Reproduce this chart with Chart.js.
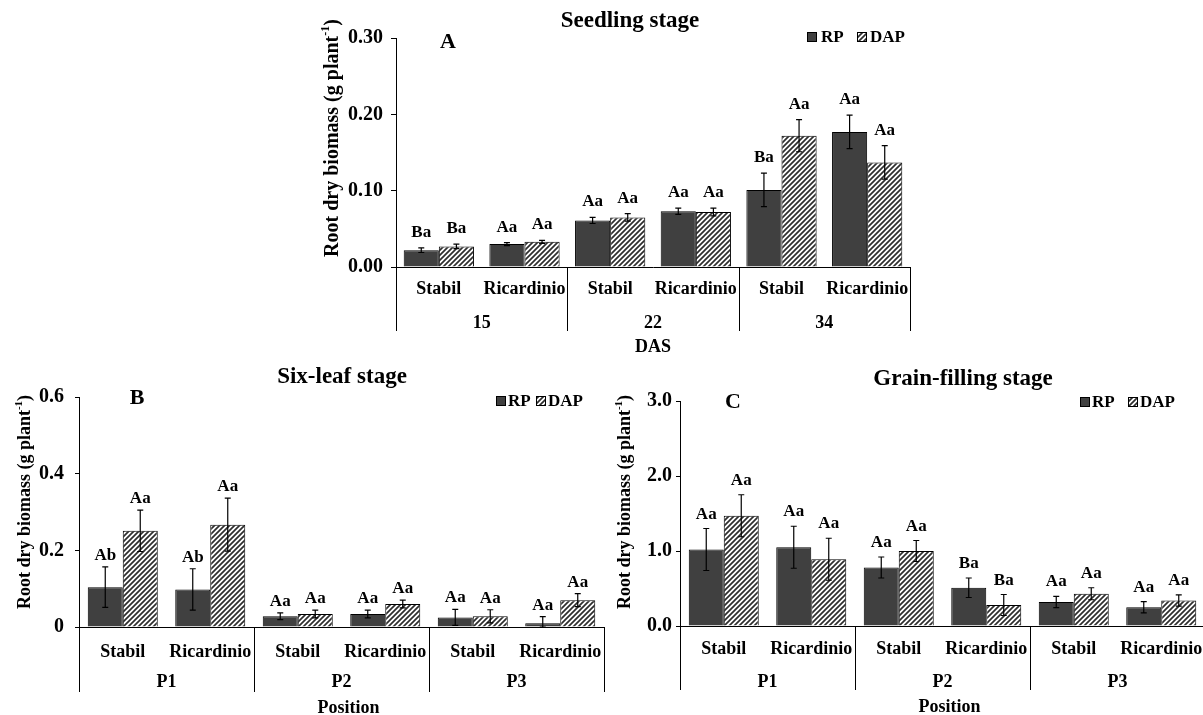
<!DOCTYPE html>
<html lang="en">
<head>
<meta charset="utf-8">
<title>Root dry biomass</title>
<script src="https://cdn.jsdelivr.net/npm/chart.js@4/dist/chart.umd.min.js"></script>
<style>
  html, body { margin: 0; padding: 0; background: #fff; overflow: hidden; }
  body { width: 1203px; height: 715px; position: relative; }
  canvas { position: absolute; }
</style>
</head>
<body>
<canvas id="chartA"></canvas>
<canvas id="chartB"></canvas>
<canvas id="chartC"></canvas>
<script>
// ---- data ----
const cultivars = ['Stabil', 'Ricardinio', 'Stabil', 'Ricardinio', 'Stabil', 'Ricardinio'];
const dasGroups = ['15', '22', '34'];
const positionGroups = ['P1', 'P2', 'P3'];
const seriesNames = ['RP', 'DAP'];

// A - seedling stage
const seedRP = [0.022, 0.030, 0.061, 0.073, 0.101, 0.177];
const seedRPErr = [0.003, 0.002, 0.004, 0.004, 0.022, 0.022];
const seedDAP = [0.027, 0.033, 0.065, 0.072, 0.172, 0.137];
const seedDAPErr = [0.003, 0.002, 0.005, 0.005, 0.021, 0.022];
const seedRPLetters = ['Ba', 'Aa', 'Aa', 'Aa', 'Ba', 'Aa'];
const seedDAPLetters = ['Ba', 'Aa', 'Aa', 'Aa', 'Aa', 'Aa'];
const seedTicks = ['0.00', '0.10', '0.20', '0.30'];

// B - six-leaf stage
const sixRP = [0.104, 0.098, 0.028, 0.034, 0.025, 0.010];
const sixRPErr = [0.053, 0.054, 0.009, 0.010, 0.021, 0.017];
const sixDAP = [0.251, 0.267, 0.034, 0.060, 0.028, 0.070];
const sixDAPErr = [0.054, 0.069, 0.010, 0.010, 0.017, 0.017];
const sixRPLetters = ['Ab', 'Ab', 'Aa', 'Aa', 'Aa', 'Aa'];
const sixDAPLetters = ['Aa', 'Aa', 'Aa', 'Aa', 'Aa', 'Aa'];
const sixTicks = ['0', '0.2', '0.4', '0.6'];

// C - grain-filling stage
const grainRP = [1.02, 1.05, 0.78, 0.51, 0.32, 0.25];
const grainRPErr = [0.28, 0.28, 0.14, 0.13, 0.075, 0.076];
const grainDAP = [1.47, 0.89, 1.00, 0.28, 0.43, 0.34];
const grainDAPErr = [0.28, 0.28, 0.14, 0.14, 0.08, 0.076];
const grainRPLetters = ['Aa', 'Aa', 'Aa', 'Ba', 'Aa', 'Aa'];
const grainDAPLetters = ['Aa', 'Aa', 'Aa', 'Ba', 'Aa', 'Aa'];
const grainTicks = ['0.0', '1.0', '2.0', '3.0'];

// ---- layout / style ----
const FONT = '"Liberation Serif", "Times New Roman", serif';
const RP_COLOR = '#404040';

const panels = [
  {
    id: 'chartA', canvas: {x: 300, y: 0, w: 650, h: 360},
    area: {l: 396, t: 38, r: 910, b: 267},
    rp: seedRP, rpErr: seedRPErr, dap: seedDAP, dapErr: seedDAPErr,
    rpLetters: seedRPLetters, dapLetters: seedDAPLetters,
    groups: dasGroups, ticks: seedTicks, max: 0.3, step: 0.1,
    title: 'Seedling stage', titlePos: [630, 21],
    letter: 'A', letterPos: [448, 42],
    legend: {y: 37, sq1: 807, t1: 821, sq2: 857, t2: 870},
    axisTitle: 'DAS', axisTitleDx: 0,
    yTitlePos: [333, 138], yTitleSize: 20,
    tickLen: 5, tickPad: 8, catPct: 0.82, letterGap: 11,
    sepLen: 64, subDy: 22, groupDy: 56, axisDy: 80
  },
  {
    id: 'chartB', canvas: {x: 0, y: 355, w: 620, h: 360},
    area: {l: 79, t: 397, r: 604, b: 627},
    rp: sixRP, rpErr: sixRPErr, dap: sixDAP, dapErr: sixDAPErr,
    rpLetters: sixRPLetters, dapLetters: sixDAPLetters,
    groups: positionGroups, ticks: sixTicks, max: 0.6, step: 0.2,
    title: 'Six-leaf stage', titlePos: [342, 377],
    letter: 'B', letterPos: [137, 398],
    legend: {y: 401, sq1: 496, t1: 508, sq2: 536, t2: 548},
    axisTitle: 'Position', axisTitleDx: 7,
    yTitlePos: [25, 502], yTitleSize: 18,
    tickLen: 4, tickPad: 11, catPct: 0.8, letterGap: 7,
    sepLen: 65, subDy: 25, groupDy: 55, axisDy: 81
  },
  {
    id: 'chartC', canvas: {x: 610, y: 355, w: 600, h: 360},
    area: {l: 680, t: 401, r: 1205, b: 626},
    rp: grainRP, rpErr: grainRPErr, dap: grainDAP, dapErr: grainDAPErr,
    rpLetters: grainRPLetters, dapLetters: grainDAPLetters,
    groups: positionGroups, ticks: grainTicks, max: 3.0, step: 1.0,
    title: 'Grain-filling stage', titlePos: [963, 379],
    letter: 'C', letterPos: [733, 402],
    legend: {y: 402, sq1: 1080, t1: 1092, sq2: 1128, t2: 1140},
    axisTitle: 'Position', axisTitleDx: 7,
    yTitlePos: [625, 502], yTitleSize: 18,
    tickLen: 4, tickPad: 4, catPct: 0.8, letterGap: 10,
    sepLen: 64, subDy: 23, groupDy: 56, axisDy: 81
  }
];

function makeHatch(ctx) {
  const c = document.createElement('canvas');
  c.width = 5; c.height = 5;
  const g = c.getContext('2d');
  g.fillStyle = '#fff';
  g.fillRect(0, 0, 5, 5);
  g.strokeStyle = '#2e2e2e';
  g.lineWidth = 1.7;
  g.beginPath();
  g.moveTo(-1, 6); g.lineTo(6, -1);
  g.moveTo(-1, 1); g.lineTo(1, -1);
  g.moveTo(4, 6); g.lineTo(6, 4);
  g.stroke();
  return ctx.createPattern(c, 'repeat');
}

function bold(size) { return 'bold ' + size + 'px ' + FONT; }

function annotate(p, hatch) {
  const X = v => v - p.canvas.x;
  const Y = v => v - p.canvas.y;
  return {
    id: 'annotate_' + p.id,
    afterDatasetsDraw(chart) {
      const ctx = chart.ctx;
      const ys = chart.scales.y;
      ctx.save();
      chart.data.datasets.forEach((ds, di) => {
        const meta = chart.getDatasetMeta(di);
        meta.data.forEach((bar, i) => {
          const v = ds.data[i], e = ds.err[i];
          const yTop = ys.getPixelForValue(v + e);
          const yBot = ys.getPixelForValue(Math.max(0, v - e));
          ctx.strokeStyle = '#000';
          ctx.lineWidth = 1.2;
          ctx.beginPath();
          ctx.moveTo(bar.x, yTop); ctx.lineTo(bar.x, yBot);
          ctx.moveTo(bar.x - 3, yTop); ctx.lineTo(bar.x + 3, yTop);
          ctx.moveTo(bar.x - 3, yBot); ctx.lineTo(bar.x + 3, yBot);
          ctx.stroke();
          ctx.fillStyle = '#000';
          ctx.font = bold(17);
          ctx.textAlign = 'center';
          ctx.textBaseline = 'alphabetic';
          ctx.fillText(ds.letters[i], bar.x, yTop - p.letterGap);
        });
      });
      ctx.restore();
    },
    afterDraw(chart) {
      const ctx = chart.ctx;
      const a = chart.chartArea;
      const xs = chart.scales.x;
      ctx.save();
      ctx.fillStyle = '#000';
      ctx.textAlign = 'center';
      ctx.textBaseline = 'middle';

      // title and panel letter
      ctx.font = bold(23);
      ctx.fillText(p.title, X(p.titlePos[0]), Y(p.titlePos[1]));
      ctx.font = bold(22);
      ctx.fillText(p.letter, X(p.letterPos[0]), Y(p.letterPos[1]));

      // legend
      const lg = p.legend;
      ctx.lineWidth = 1;
      ctx.strokeStyle = '#000';
      ctx.fillStyle = RP_COLOR;
      ctx.fillRect(X(lg.sq1), Y(lg.y) - 5, 10, 10);
      ctx.strokeRect(X(lg.sq1) + 0.5, Y(lg.y) - 4.5, 9, 9);
      ctx.fillStyle = hatch;
      ctx.fillRect(X(lg.sq2), Y(lg.y) - 5, 10, 10);
      ctx.strokeRect(X(lg.sq2) + 0.5, Y(lg.y) - 4.5, 9, 9);
      ctx.fillStyle = '#000';
      ctx.font = bold(17);
      ctx.textAlign = 'left';
      ctx.fillText(seriesNames[0], X(lg.t1), Y(lg.y) + 1);
      ctx.fillText(seriesNames[1], X(lg.t2), Y(lg.y) + 1);

      // multi-level category axis
      const n = cultivars.length;
      const catW = (a.right - a.left) / n;
      ctx.textAlign = 'center';
      ctx.font = bold(18);
      cultivars.forEach((c, i) => {
        ctx.fillText(c, xs.getPixelForValue(i), a.bottom + p.subDy);
      });
      ctx.strokeStyle = '#000';
      ctx.lineWidth = 1;
      ctx.beginPath();
      for (let k = 0; k <= p.groups.length; k++) {
        const x = Math.round(a.left + k * 2 * catW) + 0.5;
        ctx.moveTo(x, a.bottom);
        ctx.lineTo(x, a.bottom + p.sepLen);
      }
      ctx.stroke();
      p.groups.forEach((g, k) => {
        ctx.fillText(g, a.left + (k * 2 + 1) * catW, a.bottom + p.groupDy);
      });
      ctx.fillText(p.axisTitle, (a.left + a.right) / 2 + p.axisTitleDx, a.bottom + p.axisDy);

      // y-axis title with superscript
      const main = 'Root dry biomass (g plant';
      const sup = '-1';
      const close = ')';
      const fs = p.yTitleSize;
      ctx.font = bold(fs);
      const w1 = ctx.measureText(main).width;
      const w3 = ctx.measureText(close).width;
      ctx.font = bold(Math.round(fs * 0.6));
      const w2 = ctx.measureText(sup).width;
      const total = w1 + w2 + w3;
      ctx.translate(X(p.yTitlePos[0]), Y(p.yTitlePos[1]));
      ctx.rotate(-Math.PI / 2);
      ctx.textAlign = 'left';
      ctx.textBaseline = 'middle';
      let x0 = -total / 2;
      ctx.font = bold(fs);
      ctx.fillText(main, x0, 0);
      ctx.font = bold(Math.round(fs * 0.6));
      ctx.fillText(sup, x0 + w1, -fs * 0.35);
      ctx.font = bold(fs);
      ctx.fillText(close, x0 + w1 + w2, 0);
      ctx.restore();
    }
  };
}

function drawPanel(p) {
  const cv = document.getElementById(p.id);
  cv.width = p.canvas.w;
  cv.height = p.canvas.h;
  cv.style.left = p.canvas.x + 'px';
  cv.style.top = p.canvas.y + 'px';
  cv.style.width = p.canvas.w + 'px';
  cv.style.height = p.canvas.h + 'px';
  const ctx = cv.getContext('2d');
  const hatch = makeHatch(ctx);

  const left = p.area.l - p.canvas.x;
  const top = p.area.t - p.canvas.y;
  const right = p.area.r - p.canvas.x;
  const bottom = p.area.b - p.canvas.y;

  new Chart(ctx, {
    type: 'bar',
    data: {
      labels: cultivars,
      datasets: [
        {
          label: seriesNames[0], data: p.rp, err: p.rpErr, letters: p.rpLetters,
          backgroundColor: RP_COLOR, borderColor: '#000', borderWidth: 1,
          categoryPercentage: p.catPct, barPercentage: 1
        },
        {
          label: seriesNames[1], data: p.dap, err: p.dapErr, letters: p.dapLetters,
          backgroundColor: hatch, borderColor: '#000', borderWidth: 1,
          categoryPercentage: p.catPct, barPercentage: 1
        }
      ]
    },
    options: {
      responsive: false,
      animation: false,
      devicePixelRatio: 1,
      layout: {padding: {left: 0, top: top, right: p.canvas.w - right, bottom: 0}},
      plugins: {legend: {display: false}, tooltip: {enabled: false}, title: {display: false}},
      scales: {
        x: {
          ticks: {display: false},
          grid: {display: false},
          border: {display: true, color: '#000', width: 1},
          afterFit: s => { s.height = p.canvas.h - bottom; }
        },
        y: {
          min: 0, max: p.max,
          ticks: {
            stepSize: p.step,
            callback: (v, i) => p.ticks[i],
            font: {family: FONT, weight: 'bold', size: 20},
            color: '#000',
            padding: p.tickPad
          },
          grid: {drawOnChartArea: false, drawTicks: true, tickLength: p.tickLen, color: '#000'},
          border: {display: true, color: '#000', width: 1},
          afterFit: s => { s.width = left; }
        }
      }
    },
    plugins: [annotate(p, hatch)]
  });
}

panels.forEach(drawPanel);
</script>
</body>
</html>
